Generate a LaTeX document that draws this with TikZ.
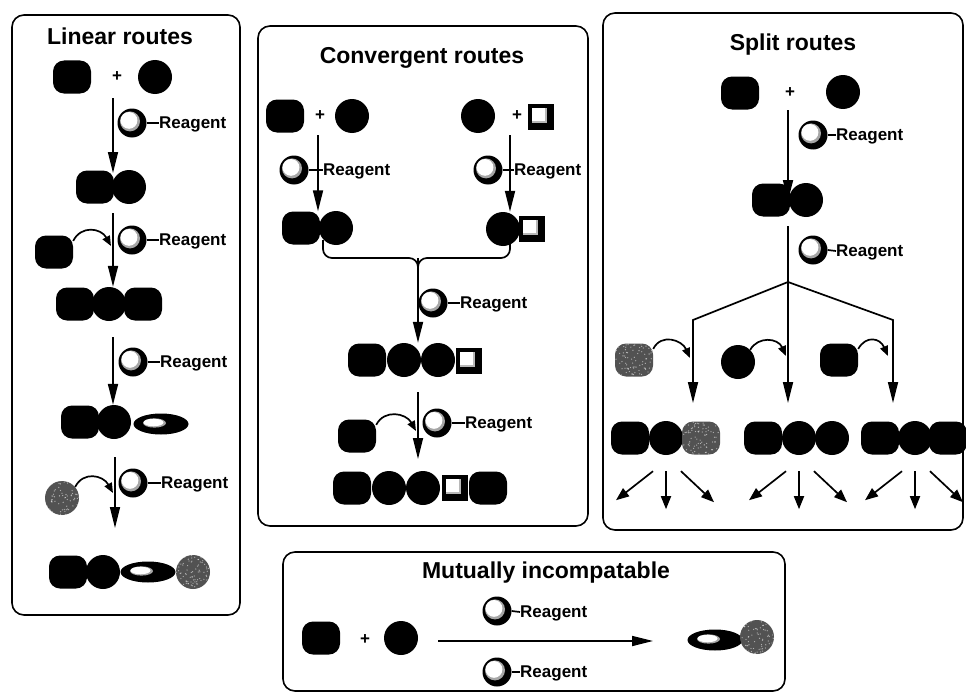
\documentclass[tikz,border=0pt]{standalone}
\usepackage{fontspec}
\setmainfont{Liberation Sans}
\usetikzlibrary{arrows.meta,shapes.geometric,calc}

\pgfmathsetseed{17}

\tikzset{
  panel/.style={line width=1.6pt, rounded corners=12pt},
  heading/.style={font=\bfseries\fontsize{23}{27}\selectfont, inner sep=0pt},
  rlabel/.style={font=\bfseries\fontsize{17}{20}\selectfont, inner sep=0pt, anchor=west, text depth=0pt},
  pluss/.style={font=\bfseries\fontsize{17}{20}\selectfont, inner sep=0pt},
  blk/.style={fill=black, draw=none, inner sep=0pt},
  sq/.style={blk, rectangle, rounded corners=11pt, minimum width=38pt, minimum height=33pt},
  ci/.style={blk, circle, minimum size=34pt},
  speck/.style={fill=black!68, path picture={
      \foreach \k in {1,...,90}{
        \fill[white, opacity=0.55] ($(path picture bounding box.center)+(rand*18pt,rand*18pt)$) circle (0.65pt);}}},
  gsq/.style={sq, speck},
  gci/.style={ci, speck},
  sqs/.style={blk, rectangle, minimum size=26pt, path picture={
      \fill[black!28] ($(path picture bounding box.center)+(-9pt,9pt)$) rectangle ($(path picture bounding box.center)+(6pt,-6pt)$);
      \fill[white] ($(path picture bounding box.center)+(-9pt,9pt)$) rectangle ($(path picture bounding box.center)+(4pt,-4pt)$);}},
  ovl/.style={blk, ellipse, minimum width=55pt, minimum height=21pt, path picture={
      \fill[black!35] ($(path picture bounding box.center)+(-6.5pt,1pt)$) ellipse (11.5pt and 4.6pt);
      \fill[white] ($(path picture bounding box.center)+(-7.5pt,1.5pt)$) ellipse (10pt and 3.8pt);}},
  reag/.style={blk, circle, minimum size=29pt, path picture={
      \fill[black!35] ($(path picture bounding box.center)+(-2pt,1.6pt)$) circle (10pt);
      \fill[white] ($(path picture bounding box.center)+(-3pt,2.6pt)$) circle (8.4pt);}},
  line/.style={line width=1.7pt},
  tie/.style={line width=1.7pt},
  flow/.style={line width=1.7pt, -{Triangle[length=21pt,width=10pt]}},
  curv/.style={line width=1.7pt, -{Triangle[length=10pt,width=8pt]}},
  sarr/.style={line width=1.7pt, -{Triangle[length=13pt,width=10pt]}},
}

\begin{document}
\begin{tikzpicture}[x=1pt, y=-1pt]
\useasboundingbox (0,0) rectangle (966,693);

% ---------------- Linear routes ----------------
\draw[panel] (12,15) rectangle (240,615);
\node[heading] (h1) at (120,36) {Linear routes};

\node[sq] (a1) at (72,77) {};
\node[pluss] (p1) at (117,77) {+};
\node[ci] (a2) at (155,77) {};

\coordinate (l1s) at (113,98);
\coordinate (l1e) at (113,173);
\draw[flow] (l1s) -- (l1e);
\node[reag] (lr1) at (132,123) {};
\node[rlabel] (lt1) at (159,123) {Reagent};
\draw[tie] (lr1.east) -- (lt1.west);

\node[sq] (b1) at (95,187) {};
\node[ci] (b2) at (129,187) {};

\coordinate (l2s) at (113,213);
\node[sq] (c1) at (75,304) {};
\node[ci] (c2) at (109,304) {};
\node[sq] (c3) at (143,304) {};
\draw[flow] (l2s) -- (l2s |- c2.north);
\node[reag] (lr2) at (132,240) {};
\node[rlabel] (lt2) at (159,240) {Reagent};
\draw[tie] (lr2.east) -- (lt2.west);
\node[sq] (ls2) at (54,252) {};
\coordinate (lc2) at (111,246);
\draw[curv] (ls2.30) .. controls +(8,-16) and +(-10,-18) .. (lc2);

\coordinate (l3s) at (113,337);
\node[sq] (d1) at (80,422) {};
\node[ci] (d2) at (114,422) {};
\node[ovl] (d3) at (161,424) {};
\draw[flow] (l3s) -- (l3s |- d2.north);
\node[reag] (lr3) at (133,362) {};
\node[rlabel] (lt3) at (160,362) {Reagent};
\draw[tie] (lr3.east) -- (lt3.west);

\coordinate (l4s) at (115,457);
\coordinate (l4e) at (115,528);
\draw[flow] (l4s) -- (l4e);
\node[reag] (lr4) at (133,483) {};
\node[rlabel] (lt4) at (161,483) {Reagent};
\draw[tie] (lr4.east) -- (lt4.west);
\node[gci] (ls4) at (62,498) {};
\coordinate (lc4) at (113,493);
\draw[curv] (ls4.40) .. controls +(8,-16) and +(-10,-18) .. (lc4);

\node[sq] (e1) at (68,572) {};
\node[ci] (e2) at (103,572) {};
\node[ovl] (e3) at (148,572) {};
\node[gci] (e4) at (193,572) {};

% ---------------- Convergent routes ----------------
\draw[panel] (258,26) rectangle (588,526);
\node[heading] (h2) at (422,58) {Convergent routes};

\node[sq] (f1) at (285,116) {};
\node[pluss] (p2) at (320,116) {+};
\node[ci] (f2) at (352,116) {};
\node[ci] (g1) at (478,116) {};
\node[pluss] (p3) at (517,116) {+};
\node[sqs] (g2) at (541,117) {};

\coordinate (cl1) at (318,135);
\coordinate (cr1) at (510,135);
\node[sq] (k1) at (301,228) {};
\node[ci] (k2) at (336,228) {};
\node[ci] (m1) at (503,229) {};
\node[sqs] (m2) at (532,229) {};
\draw[flow] (cl1) -- (cl1 |- k1.north);
\draw[flow] (cr1) -- (cr1 |- m1.north);
\node[reag] (cg1) at (294,170) {};
\node[rlabel] (ct1) at (323,170) {Reagent};
\draw[tie] (cg1.east) -- (ct1.west);
\node[reag] (cg2) at (488,170) {};
\node[rlabel] (ct2) at (514,170) {Reagent};
\draw[tie] (cg2.east) -- (ct2.west);

% bracket joining both halves
\coordinate (bL) at (323,240);
\coordinate (bR) at (510,240);
\coordinate (bj) at (418,258);
\coordinate (bs) at (418,274);
\draw[line, rounded corners=9pt] (bL) |- (bj) -- (bs);
\draw[line, rounded corners=9pt] (bR) |- (bj) -- (bs);

\node[sq] (n1) at (367,360) {};
\node[ci] (n2) at (404,360) {};
\node[ci] (n3) at (438,360) {};
\node[sqs] (n4) at (469,361) {};
\draw[flow] (bj) -- (bj |- n2.north);
\node[reag] (cg3) at (433,303) {};
\node[rlabel] (ct3) at (460,303) {Reagent};
\draw[tie] (cg3.east) -- (ct3.west);

\coordinate (cs4) at (418,392);
\coordinate (ce4) at (418,459);
\draw[flow] (cs4) -- (ce4);
\node[reag] (cg4) at (437,423) {};
\node[rlabel] (ct4) at (465,423) {Reagent};
\draw[tie] (cg4.east) -- (ct4.west);
\node[sq] (cs) at (357,436) {};
\coordinate (cc4) at (416,431);
\draw[curv] (cs.30) .. controls +(8,-16) and +(-10,-18) .. (cc4);

\node[sq] (o1) at (352,488) {};
\node[ci] (o2) at (389,488) {};
\node[ci] (o3) at (423,488) {};
\node[sqs] (o4) at (455,488) {};
\node[sq] (o5) at (488,488) {};

% ---------------- Split routes ----------------
\draw[panel] (603,13) rectangle (963,530);
\node[heading] (h3) at (793,45) {Split routes};

\node[sq] (q1) at (740,93) {};
\node[pluss] (p4) at (790,93) {+};
\node[ci] (q2) at (843,92) {};

\coordinate (ss1) at (788,110);
\coordinate (se1) at (788,201);
\draw[flow] (ss1) -- (se1);
\node[reag] (sg1) at (813,135) {};
\node[rlabel] (st1) at (836,135) {Reagent};
\draw[tie] (sg1.east) -- (st1.west);

\node[sq] (u1) at (771,200) {};
\node[ci] (u2) at (806,200) {};

\coordinate (sv) at (788,226);
\coordinate (sb) at (788,282);
\draw[line] (sv) -- (sb);
\node[reag] (sg2) at (813,250) {};
\node[rlabel] (st2) at (836,251) {Reagent};
\draw[tie] (sg2.east) -- (st2.west);

\coordinate (kl) at (693,320);
\coordinate (kr) at (893,320);
\coordinate (el) at (693,403);
\coordinate (em) at (788,403);
\coordinate (er) at (893,403);
\draw[flow, line join=miter] (sb) -- (kl) -- (el);
\draw[flow] (sb) -- (em);
\draw[flow, line join=miter] (sb) -- (kr) -- (er);

\node[gsq] (v1) at (634,360) {};
\node[ci] (v2) at (738,362) {};
\node[sq] (v3) at (839,360) {};
\coordinate (vc1) at (690,358);
\coordinate (vc2) at (786,356);
\coordinate (vc3) at (888,356);
\draw[curv] (v1.30) .. controls +(8,-16) and +(-8,-18) .. (vc1);
\draw[curv] (v2.45) .. controls +(8,-14) and +(-8,-18) .. (vc2);
\draw[curv] (v3.30) .. controls +(8,-14) and +(-8,-18) .. (vc3);

\node[sq] (w1) at (630,438) {};
\node[ci] (w2) at (666,438) {};
\node[gsq] (w3) at (701,438) {};
\node[sq] (x1) at (763,438) {};
\node[ci] (x2) at (799,438) {};
\node[ci] (x3) at (832,438) {};
\node[sq] (y1) at (880,438) {};
\node[ci] (y2) at (915,438) {};
\node[sq] (y3) at (948,438) {};

\foreach \m in {w2,x2,y2} {
  \draw[sarr] ([shift={(-13,16)}]\m.south) -- ++(-37,29);
  \draw[sarr] ([shift={(0,16)}]\m.south) -- ++(0,38);
  \draw[sarr] ([shift={(15,16)}]\m.south) -- ++(33,31);
}

% ---------------- Mutually incompatable ----------------
\draw[panel] (283,552) rectangle (785,691);
\node[heading] (h4) at (546,573) {Mutually incompatable};

\node[sq] (z1) at (321,638) {};
\node[pluss] (p5) at (365,640) {+};
\node[ci] (z2) at (401,638) {};
\node[ovl] (z3) at (715,640) {};
\node[gci] (z4) at (757,637) {};

\coordinate (za) at (438,641);
\coordinate (zb) at (653,641);
\draw[flow] (za) -- (zb);
\node[reag] (mg1) at (497,611) {};
\node[rlabel] (mt1) at (520,612) {Reagent};
\draw[tie] (mg1.east) -- (mt1.west);
\node[reag] (mg2) at (497,672) {};
\node[rlabel] (mt2) at (520,672) {Reagent};
\draw[tie] (mg2.east) -- (mt2.west);
\end{tikzpicture}
\end{document}
